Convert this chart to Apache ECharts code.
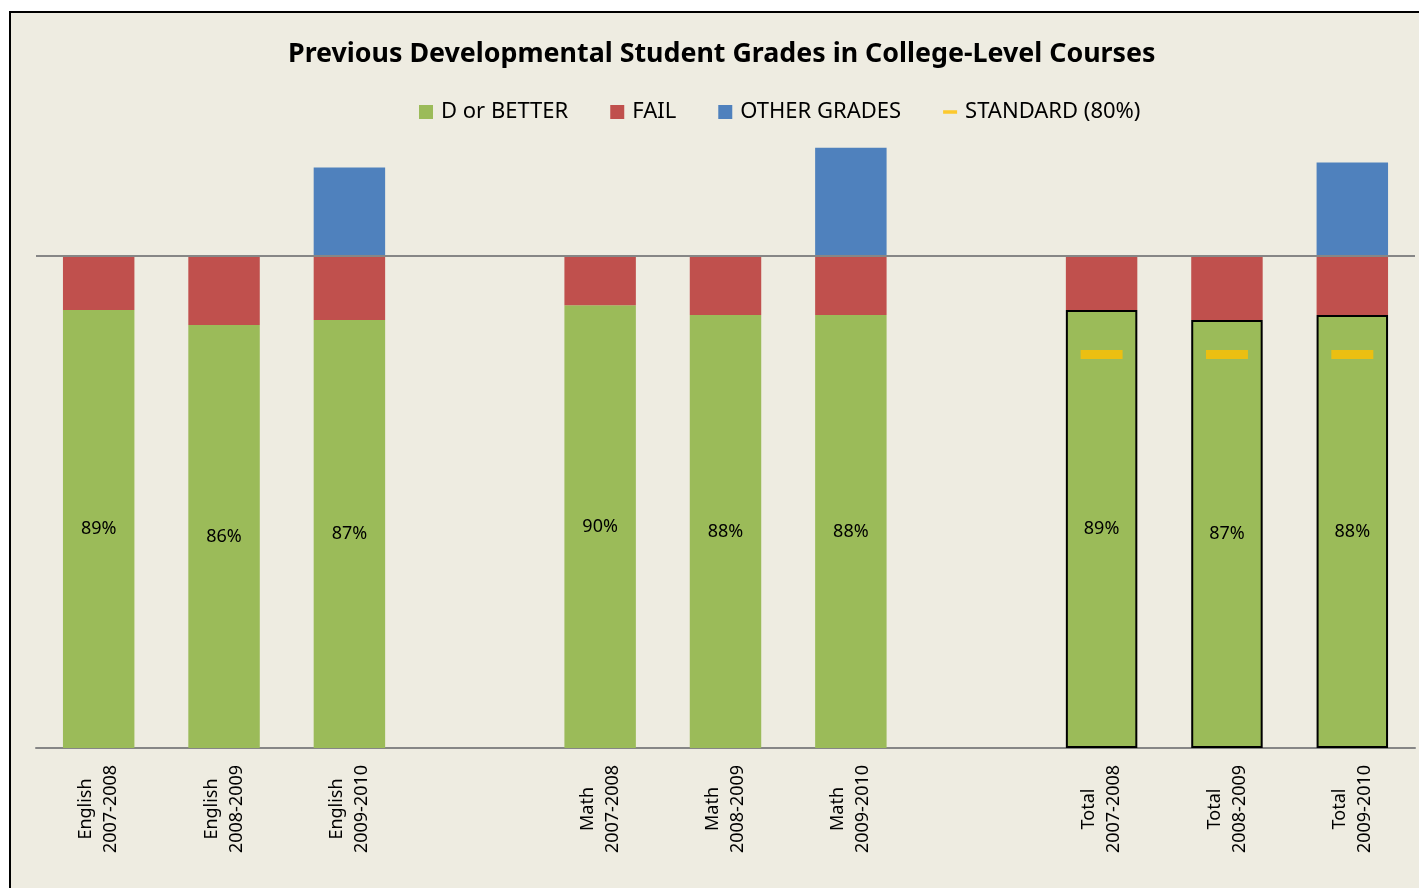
<!DOCTYPE html>
<html>
<head>
<meta charset="utf-8">
<script src="https://cdn.jsdelivr.net/npm/echarts@6/dist/echarts.min.js"></script>
<style>
  html, body { margin: 0; padding: 0; background: #fff; overflow: hidden; }
  .frame {
    position: absolute; left: 9px; top: 11px;
    width: 1440px; height: 900px;
    border: 2px solid #000;
    background: #EEECE1;
  }
  #chart { position: absolute; left: -11px; top: -13px; width: 1419px; height: 888px; }
</style>
</head>
<body>
<div class="frame"><div id="chart"></div></div>
<script>
// categories (blank slots separate the groups)
const categories = [
  'English\n2007-2008', 'English\n2008-2009', 'English\n2009-2010', '',
  'Math\n2007-2008', 'Math\n2008-2009', 'Math\n2009-2010', '',
  'Total\n2007-2008', 'Total\n2008-2009', 'Total\n2009-2010'
];
const dOrBetter = [89, 86, 87, '-', 90, 88, 88, '-', 89, 87, 88];
const fail = [11, 14, 13, '-', 10, 12, 12, '-', 11, 13, 12];
const otherGrades = [0, 0, 18, '-', 0, 0, 22, '-', 0, 0, 19];
const standard = ['-', '-', '-', '-', '-', '-', '-', '-', 80, 80, 80];
const totalIdx = [8, 9, 10];

const font = 'Noto Sans';

const chart = echarts.init(document.getElementById('chart'));

chart.setOption({
  backgroundColor: 'transparent',
  textStyle: { fontFamily: font },
  title: {
    text: 'Previous Developmental Student Grades in College-Level Courses',
    left: 283,
    top: 36,
    textStyle: { fontFamily: font, fontSize: 26.8, fontWeight: 'bold', color: '#000' }
  },
  legend: {
    top: 96,
    left: 414,
    itemWidth: 14,
    itemHeight: 14,
    itemGap: 42,
    textStyle: { fontFamily: font, fontSize: 22, color: '#000', padding: [0, 0, 0, 3] },
    data: [
      { name: 'D or BETTER', icon: 'rect' },
      { name: 'FAIL', icon: 'rect' },
      { name: 'OTHER GRADES', icon: 'rect' },
      { name: 'STANDARD (80%)', icon: 'path://M0,0 L20,0 L20,5 L0,5 Z' }
    ]
  },
  grid: { left: 36, right: 4, top: 133, bottom: 140 },
  xAxis: {
    type: 'category',
    data: categories,
    axisLine: { lineStyle: { color: '#868686', width: 2 } },
    axisTick: { show: false },
    axisLabel: {
      rotate: 90,
      interval: 0,
      margin: 61,
      align: 'center',
      fontFamily: font,
      fontSize: 18,
      color: '#000',
      lineHeight: 25
    }
  },
  yAxis: {
    type: 'value',
    min: 0,
    max: 125,
    show: false,
    splitLine: { show: false }
  },
  series: [
    {
      name: 'D or BETTER',
      type: 'bar',
      stack: 'g',
      barWidth: '57%',
      itemStyle: { color: '#9BBB59' },
      label: {
        show: true,
        position: 'inside',
        formatter: '{c}%',
        fontFamily: font,
        fontSize: 18,
        color: '#000'
      },
      data: dOrBetter.map((v, i) => totalIdx.includes(i)
        ? { value: v, itemStyle: { borderColor: '#000', borderWidth: 2 } }
        : v),
      markLine: {
        silent: true,
        symbol: 'none',
        label: { show: false },
        lineStyle: { color: '#868686', width: 2, type: 'solid' },
        data: [{ yAxis: 100 }]
      }
    },
    {
      name: 'FAIL',
      type: 'bar',
      stack: 'g',
      itemStyle: { color: '#C0504D' },
      data: fail
    },
    {
      name: 'OTHER GRADES',
      type: 'bar',
      stack: 'g',
      itemStyle: { color: '#4F81BD' },
      data: otherGrades
    },
    {
      name: 'STANDARD (80%)',
      type: 'scatter',
      symbol: 'rect',
      symbolSize: [42, 9],
      z: 5,
      itemStyle: { color: '#FFC000' },
      data: standard
    }
  ]
});
</script>
</body>
</html>
